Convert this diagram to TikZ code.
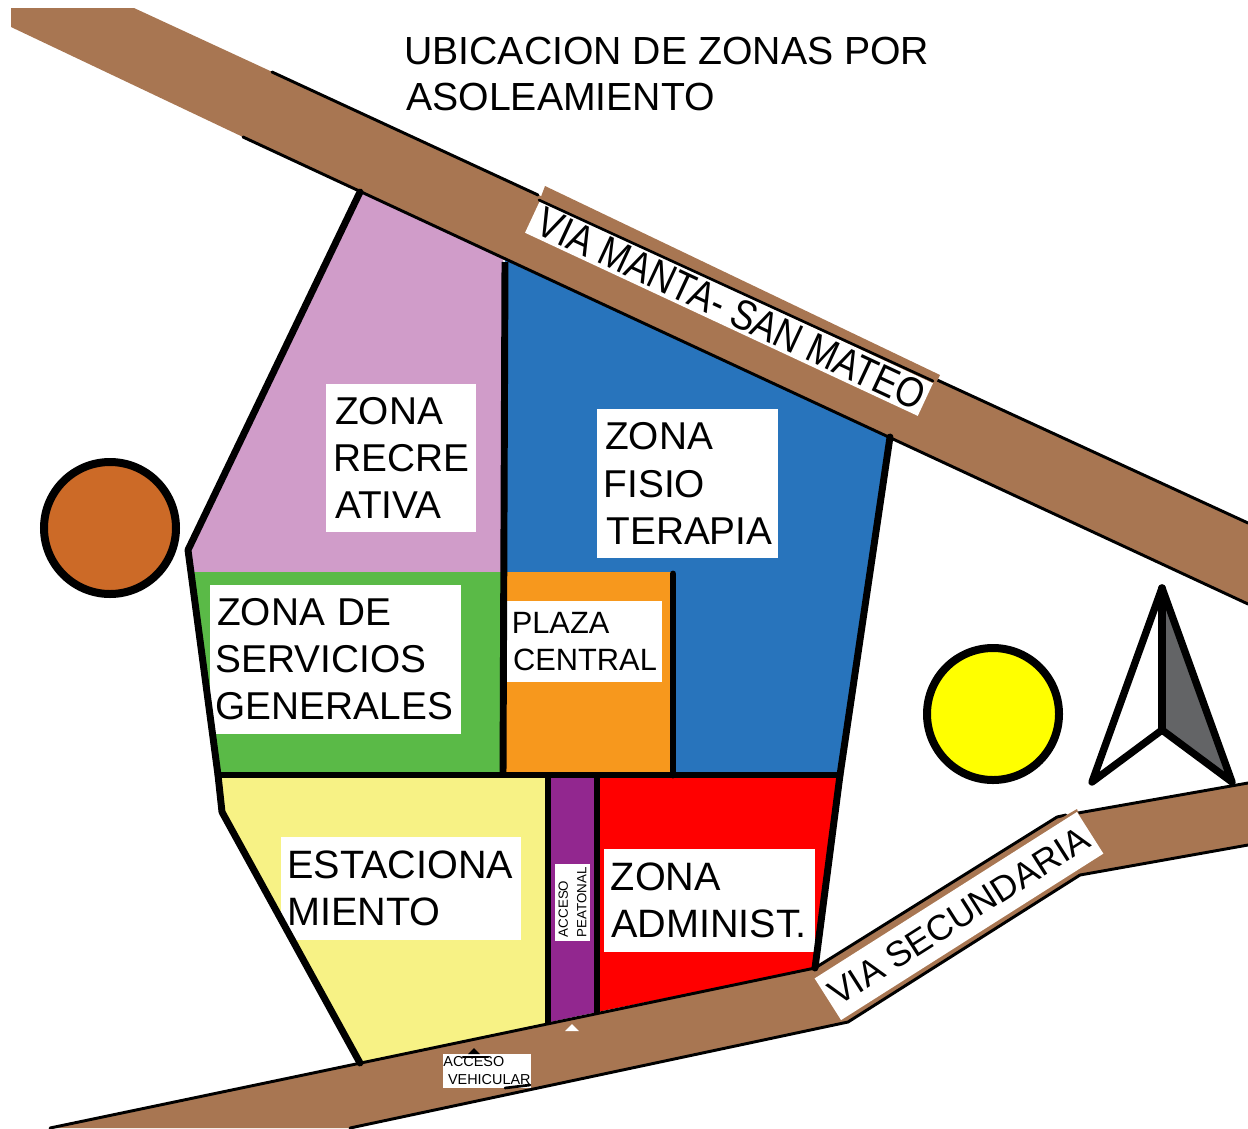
\documentclass[tikz,border=0pt]{standalone}
\usepackage{fontspec}
\setmainfont{Liberation Sans}
\definecolor{road}{HTML}{A87652}
\definecolor{pinkz}{HTML}{D09CC9}
\definecolor{bluez}{HTML}{2874BC}
\definecolor{greenz}{HTML}{5ABA47}
\definecolor{orangez}{HTML}{F7981D}
\definecolor{yellowz}{HTML}{F7F285}
\definecolor{purplez}{HTML}{92278F}
\definecolor{sunset}{HTML}{CC6A27}
\definecolor{grayz}{HTML}{636466}
\definecolor{sunny}{HTML}{FFFF00}
\definecolor{redz}{HTML}{FF0000}
\newcommand\pad[1]{\hspace*{#1pt}}
\tikzset{
  heavy/.style={line width=5.2pt,line cap=round,line join=round},
  edgeline/.style={line width=2.2pt,line cap=round,line join=round},
  zonelabel/.style={fill=white,inner sep=0pt,align=left,font=\fontsize{29.1}{35.3}\selectfont,anchor=center},
  widelabel/.style={zonelabel,font=\fontsize{29.7}{35.3}\selectfont},
  midlabel/.style={fill=white,inner sep=0pt,align=left,font=\fontsize{23.1}{27.7}\selectfont,anchor=center},
  roadlabel/.style={fill=white,inner sep=0pt,align=center,font=\fontsize{27}{30}\selectfont,anchor=center},
  tinylabel/.style={fill=white,inner sep=0pt,align=left,anchor=center},
  body/.style={draw=black,line width=6pt,circle,minimum size=99pt,inner sep=0pt},
}
\begin{document}
\begin{tikzpicture}[x=0.75pt,y=-0.75pt]
\useasboundingbox (0,0) rectangle (1248,1128);
% roads
\fill[road] (11,8) -- (134,8) -- (1248,523) -- (1248,604) -- (890,438) -- (360,192) -- (243,137) -- (11,27) -- cycle;
\fill[road] (50,1128) -- (815,968) -- (1057,817) -- (1248,783) -- (1248,845) -- (1080,875) -- (848,1022) -- (350,1128) -- cycle;
% zones
\fill[pinkz] (360,192) -- (503,259) -- (503,572) -- (192,572) -- (188,550) -- cycle;
\fill[bluez] (505,260) -- (890,438) -- (840,775) -- (505,775) -- cycle;
\fill[orangez] (505,572) -- (673,572) -- (673,775) -- (505,775) -- cycle;
\fill[greenz] (192,572) -- (502,572) -- (502,775) -- (218,775) -- cycle;
\fill[yellowz] (220,776) -- (548,776) -- (548,1025) -- (360,1063) -- (222,812) -- cycle;
\fill[purplez] (550,776) -- (597,776) -- (597,1012) -- (550,1022) -- cycle;
\fill[redz] (597,776) -- (840,776) -- (815,968) -- (597,1012) -- cycle;
% road edges
\coordinate (ua) at (272,72); \coordinate (ub) at (538,195);
\coordinate (uc) at (935,379); \coordinate (ud) at (1248,523);
\coordinate (ue) at (243,137); \coordinate (uf) at (1248,604);
\draw[edgeline] (ua) -- (ub);
\draw[edgeline] (uc) -- (ud);
\draw[edgeline] (ue) -- (uf);
\fill[road] (545,186) -- (940,375) -- (935,385) -- (539,202) -- cycle;
\coordinate (la) at (50,1128); \coordinate (lb) at (815,968); \coordinate (lc) at (1057,817);
\coordinate (ld) at (1078,813); \coordinate (le) at (1248,783);
\coordinate (lf) at (1248,845); \coordinate (lg) at (1080,875); \coordinate (lh) at (848,1022); \coordinate (li) at (350,1128);
\draw[edgeline] (la) -- (lb) -- (lc) -- (1066,815);
\draw[edgeline] (ld) -- (le);
\draw[edgeline] (lf) -- (lg) -- (lh) -- (li);
\fill[road] (1058,820) -- (1077,809) -- (1081,820) -- cycle;
\draw[road,line width=1.5pt] (822,968) -- (1060,821);
% sun and shadow
\node[body,fill=sunset] (west) at (110,528) {};
\node[body,fill=sunny] (east) at (993,714) {};
% north arrow
\fill[grayz] (1162,588) -- (1232,782) -- (1162,730) -- cycle;
\draw[line width=5.5pt,line join=round,line cap=round] (1162,588) -- (1092,782) -- (1162,730) -- (1232,782) -- cycle;
\draw[line width=5.5pt,line cap=round] (1162,588) -- (1162,730);
% labels
\node[anchor=north west,inner sep=0pt,align=left,font=\fontsize{29.4}{34.5}\selectfont] (title) at (404,37) {UBICACION DE ZONAS POR\\[0pt]\hspace*{1.5pt}ASOLEAMIENTO};
\node[zonelabel,minimum width=112.5pt,minimum height=111pt,text width=112.5pt] (recre) at (401,458) {\pad{6.85}ZONA\\\pad{5.85}RECRE\\\pad{6.85}ATIVA};
\node[zonelabel,minimum width=135.75pt,minimum height=111.75pt,text width=135.75pt] (fisio) at (687.5,483.5) {\pad{6.1}ZONA\\\pad{5.1}FISIO\\\pad{7.1}TERAPIA};
\node[zonelabel,minimum width=188.25pt,minimum height=111.75pt,text width=188.25pt] (serv) at (335.5,659.5) {\pad{5.35}ZONA DE\\\pad{4.35}SERVICIOS\\\pad{4.35}GENERALES};
\node[midlabel,minimum width=116.25pt,minimum height=60.75pt,text width=116.25pt] (plaza) at (584.5,641.5) {\pad{3.6}PLAZA\\\pad{4.6}CENTRAL};
\node[widelabel,minimum width=180pt,minimum height=77.25pt,text width=180pt] (esta) at (401,888.5) {\pad{4.75}ESTACIONA\\\pad{4.75}MIENTO};
\node[widelabel,minimum width=158.25pt,minimum height=77.25pt,text width=158.25pt] (admin) at (709.5,900.5) {\pad{5.1}ZONA\\\pad{5.35}ADMINIST.};
\node[roadlabel,rotate=-25,minimum width=325pt,minimum height=27pt] (manta) at (729,308) {\pad{4}\scalebox{1}[1.17]{VIA MANTA- SAN MATEO}};
\draw[edgeline,line width=2pt] (539,200) -- (933,381);
\node[roadlabel,rotate=32.4,minimum width=233pt,minimum height=37pt,font=\fontsize{26.7}{30}\selectfont] (secu) at (959,916) {VIA SECUNDARIA};
\node[tinylabel,rotate=90,minimum width=57.75pt,minimum height=26.25pt,font=\fontsize{10}{14}\selectfont,text width=57.75pt] (peat) at (572.5,902.5) {\pad{3}ACCESO\\\pad{3}PEATONAL};
\node[tinylabel,minimum width=64.5pt,minimum height=25.5pt,font=\fontsize{10.8}{13.5}\selectfont] (vehi) at (487,1071) {ACCESO\\\pad{3.5}VEHICULAR};
% walls
\draw[heavy] (360,192) -- (188,550) -- (218,775) -- (222,812) -- (360,1063);
\draw[heavy,line cap=butt] (505,262) -- (503,775);
\draw[heavy] (218,775) -- (840,775);
\draw[heavy] (890,437) -- (840,775) -- (815,968);
\draw[heavy] (673,574) -- (673,775);
\draw[heavy,line cap=butt] (548,775) -- (548,1025);
\draw[heavy,line cap=butt] (597,775) -- (597,1014);
% access marks
\fill (474,1048) -- (480,1054) -- (468,1054) -- cycle;
\draw[line width=2pt,line cap=round] (463,1057) -- (488,1057);
\draw[line width=2pt,line cap=round] (505,1088) -- (530,1085);
\fill[white] (572,1024) -- (579,1031) -- (565,1031) -- cycle;
\end{tikzpicture}
\end{document}
